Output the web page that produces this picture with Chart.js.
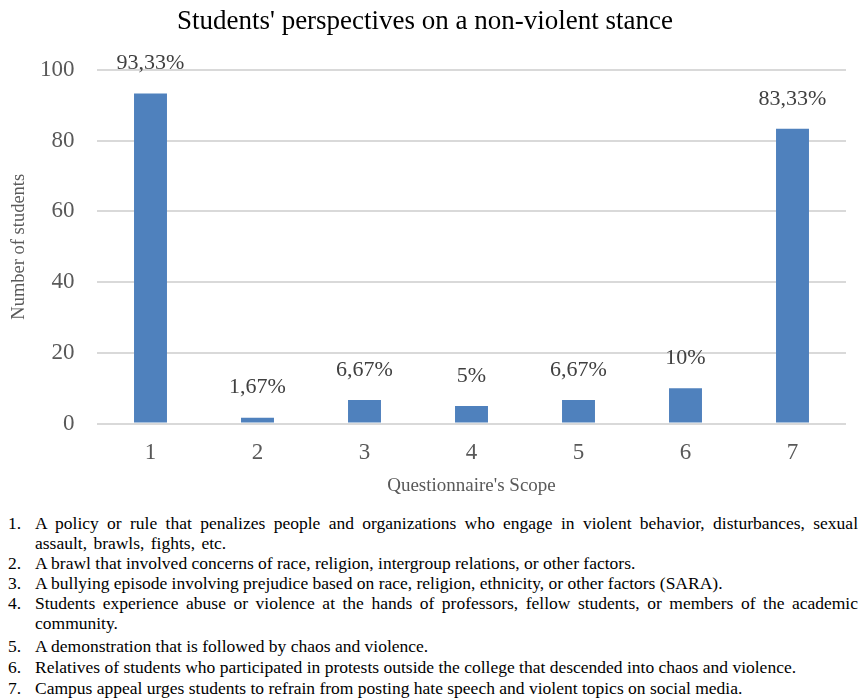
<!DOCTYPE html>
<html lang="en">
<head>
  <meta charset="UTF-8">
  <title>Students' perspectives on a non-violent stance</title>
  <script src="https://cdn.jsdelivr.net/npm/chart.js"></script>
  <style>
    body { margin:0; background:#fff; font-family:"Liberation Serif", serif; }
    #wrap { position:relative; width:863px; height:505px; }
    ol { margin:8px 5px 0 0; padding-left:35px; font-size:17.5px; line-height:20px; color:#000;
         text-align:justify; list-style:none; counter-reset:item; }
    ol li { position:relative; counter-increment:item; }
    ol li::before { content:counter(item) "."; position:absolute; left:-27px; }
    ol li.wide { word-spacing:2px; }
    ol li:nth-child(n+5) { line-height:21px; }
    ol li:nth-child(5) { margin-top:3px; }
  </style>
</head>
<body>

<div id="wrap"><canvas id="chart"></canvas></div>

<ol>
  <li class="wide">A policy or rule that penalizes people and organizations who engage in violent behavior, disturbances, sexual assault, brawls, fights, etc.</li>
  <li>A brawl that involved concerns of race, religion, intergroup relations, or other factors.</li>
  <li>A bullying episode involving prejudice based on race, religion, ethnicity, or other factors (SARA).</li>
  <li>Students experience abuse or violence at the hands of professors, fellow students, or members of the academic community.</li>
  <li>A demonstration that is followed by chaos and violence.</li>
  <li>Relatives of students who participated in protests outside the college that descended into chaos and violence.</li>
  <li>Campus appeal urges students to refrain from posting hate speech and violent topics on social media.</li>
</ol>

<script>
const categories = ['1', '2', '3', '4', '5', '6', '7'];
const values = [93.33, 1.67, 6.67, 5, 6.67, 10, 83.33];
const valueLabels = ['93,33%', '1,67%', '6,67%', '5%', '6,67%', '10%', '83,33%'];

const serif = '"Liberation Serif", "Times New Roman", serif';

// percentage labels above the bars
const barLabels = {
  id: 'barLabels',
  afterDatasetsDraw(chart) {
    const c = chart.ctx;
    const meta = chart.getDatasetMeta(0);
    c.save();
    c.font = '22px ' + serif;
    c.fillStyle = '#404040';
    c.textAlign = 'center';
    c.textBaseline = 'middle';
    meta.data.forEach((bar, i) => {
      c.fillText(valueLabels[i], bar.x, bar.y - 30);
    });
    c.restore();
  }
};

new Chart(document.getElementById('chart'), {
  type: 'bar',
  data: {
    labels: categories,
    datasets: [{
      data: values,
      backgroundColor: '#4F81BD',
      categoryPercentage: 1,
      barPercentage: 0.308
    }]
  },
  options: {
    responsive: true,
    maintainAspectRatio: false,
    animation: false,
    layout: { padding: { top: 2, right: 17, left: 4, bottom: 4 } },
    plugins: {
      legend: { display: false },
      tooltip: { enabled: false },
      title: {
        display: true,
        text: "Students' perspectives on a non-violent stance",
        color: '#000',
        font: { family: serif, size: 27, weight: 'normal' },
        padding: { top: 4, bottom: 31.5 }
      }
    },
    scales: {
      x: {
        grid: { display: false, drawTicks: false },
        border: { display: false },
        ticks: { color: '#595959', font: { family: serif, size: 23 }, padding: 16 },
        title: {
          display: true, text: "Questionnaire's Scope", color: '#595959',
          font: { family: serif, size: 19 }, padding: { top: -9, bottom: 4 }
        }
      },
      y: {
        min: 0, max: 100,
        ticks: { stepSize: 20, color: '#595959', font: { family: serif, size: 23 }, padding: 22.5 },
        grid: { color: '#d9d9d9', lineWidth: 2, drawTicks: false },
        border: { display: false },
        title: {
          display: true, text: 'Number of students', color: '#595959',
          font: { family: serif, size: 18.5 }, padding: { top: 4, bottom: -12.7 }
        }
      }
    }
  },
  plugins: [barLabels]
});
</script>
</body>
</html>
